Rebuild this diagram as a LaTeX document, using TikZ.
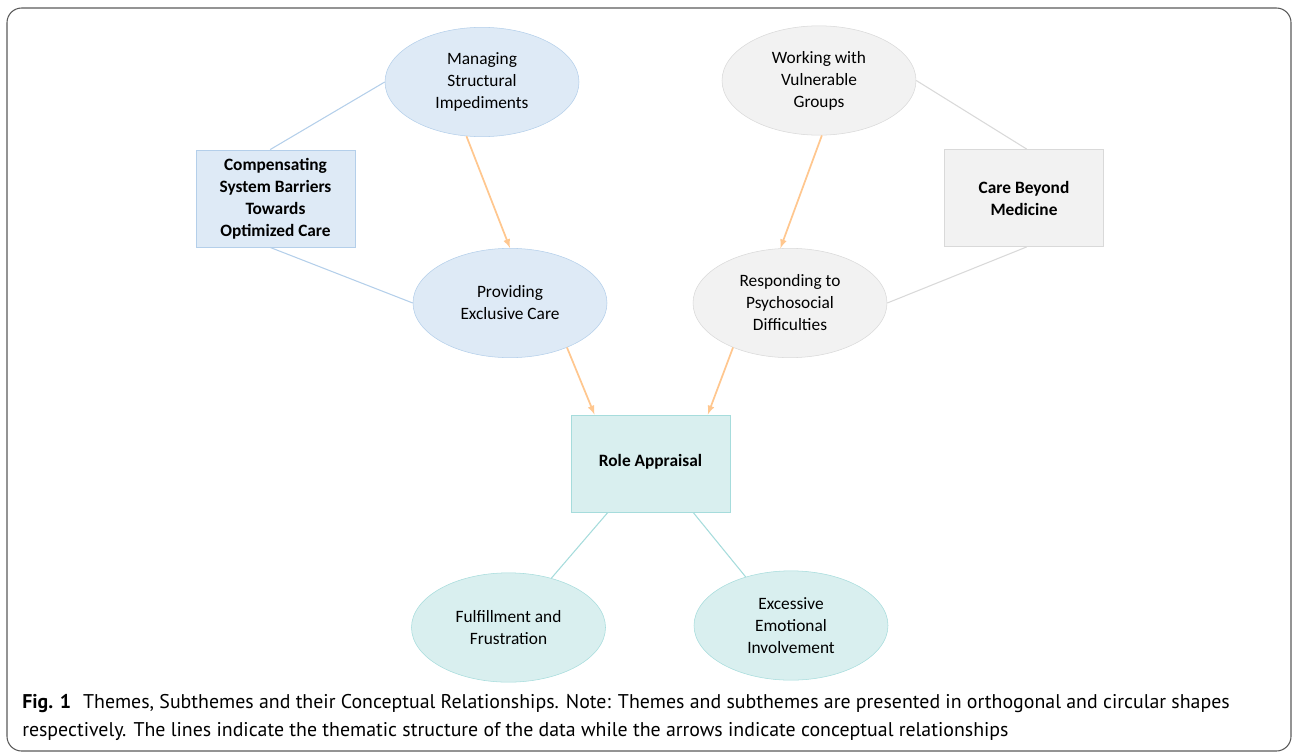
\documentclass[tikz,border=0pt]{standalone}
\usepackage{fontspec}
\setmainfont{Carlito}
\newfontfamily\capfont{PT Sans}
\usetikzlibrary{arrows,positioning,shapes}

\definecolor{blueFill}{HTML}{DEEAF6}
\definecolor{blueLine}{HTML}{B4CFEA}
\definecolor{grayFill}{HTML}{F2F2F2}
\definecolor{grayLine}{HTML}{D9D9D9}
\definecolor{tealFill}{HTML}{D9EFEF}
\definecolor{tealLine}{HTML}{A6DCDC}
\definecolor{relOrange}{HTML}{FFC78F}
\definecolor{frameGray}{HTML}{5A5A5A}

\begin{document}
\begin{tikzpicture}[x=0.75pt,y=-0.75pt,
    sub/.style={ellipse,draw,inner sep=0pt,minimum width=145.5pt,minimum height=82pt,
      align=center,font=\fontsize{13}{16.5}\selectfont},
    theme/.style={rectangle,draw,inner sep=0pt,minimum width=119pt,minimum height=73pt,
      align=center,font=\bfseries\fontsize{13}{16.5}\selectfont},
    link/.style={line width=0.8pt},
    rel/.style={->,>=latex,draw=relOrange,line width=1.3pt}]
    \useasboundingbox (0,0) rectangle (1292,753);
    \draw[frameGray,line width=0.8pt,rounded corners=11pt] (7,8) rectangle (1291,751);

    \node[sub,fill=blueFill,draw=blueLine] (msi) at (482,82) {Managing\\Structural\\Impediments};
    \node[theme,fill=blueFill,draw=blueLine] (csb) at (275.5,198.5) {Compensating\\System Barriers\\Towards\\Optimized Care};
    \node[sub,fill=blueFill,draw=blueLine] (pec) at (510,303) {Providing\\Exclusive Care};

    \node[sub,fill=grayFill,draw=grayLine] (wvg) at (819,80.5) {Working with\\Vulnerable\\Groups};
    \node[theme,fill=grayFill,draw=grayLine] (cbm) at (1024,198) {Care Beyond\\Medicine};
    \node[sub,fill=grayFill,draw=grayLine] (rpd) at (790,303) {Responding to\\Psychosocial\\Difficulties};

    \node[theme,fill=tealFill,draw=tealLine] (ra) at (650.5,463.5) {\raisebox{4.5pt}{Role Appraisal}};
    \node[sub,fill=tealFill,draw=tealLine] (ff) at (508.5,627.5) {Fulfillment and\\Frustration};
    \node[sub,fill=tealFill,draw=tealLine] (eei) at (791,625.5) {Excessive\\Emotional\\Involvement};

    \draw[link,blueLine] (msi.west) -- ([xshift=-4pt]csb.north);
    \draw[link,blueLine] ([xshift=-4pt]csb.south) -- (pec.west);
    \draw[link,grayLine] (wvg.east) -- ([xshift=2pt]cbm.north);
    \draw[link,grayLine] ([xshift=2pt]cbm.south) -- (rpd.east);
    \draw[link,tealLine] ([xshift=-32pt]ra.south) -- (ff.49);
    \draw[link,tealLine] ([xshift=32pt]ra.south) -- (eei.133);

    \draw[rel] (msi.-106) -- (pec.north);
    \draw[rel] (wvg.-87) -- (rpd.100);
    \draw[rel] (pec.-38) -- ([xshift=-42pt]ra.north);
    \draw[rel] (rpd.-142) -- ([xshift=43pt]ra.north);

    \node[anchor=west,align=left,inner sep=0pt,font=\capfont\fontsize{14.9}{21}\selectfont] (cap) at (22,717)
      {\textbf{Fig. 1}\hspace{0.6em}Themes, Subthemes and their Conceptual Relationships. Note: Themes and subthemes are presented in orthogonal and circular shapes\\
       respectively. The lines indicate the thematic structure of the data while the arrows indicate conceptual relationships};
\end{tikzpicture}
\end{document}
